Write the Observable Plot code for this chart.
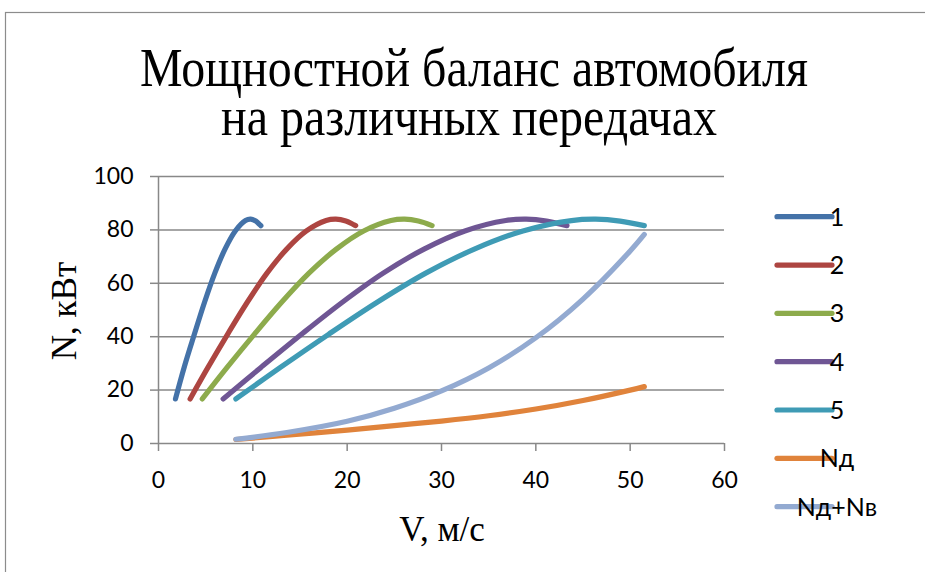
<!DOCTYPE html>
<html><head><meta charset="utf-8">
<script src="https://cdn.jsdelivr.net/npm/d3@7"></script>
<script src="https://cdn.jsdelivr.net/npm/@observablehq/plot@0.6"></script>
<style>html,body{margin:0;padding:0;background:#fff;overflow:hidden}</style>
</head><body><div id="chart"></div>
<script>
// ---- data ----
const seriesNames = ["1", "2", "3", "4", "5", "Nд", "Nд+Nв"];
const seriesColors = ["#4472a8", "#ad4541", "#8dab4c", "#6f5694", "#3f9bb5", "#e0833b", "#93aad1"];

const v1 = [1.8, 2.71, 3.8, 4.88, 5.97, 7.05, 8.14, 9.22, 9.77, 10.31, 10.85];
const n1 = [16.7, 28.4, 40.9, 52.9, 63.8, 72.8, 79.6, 83.5, 84.0, 83.3, 81.6];
const v2 = [3.35, 5.23, 7.32, 9.41, 11.5, 13.59, 15.68, 17.77, 18.81, 19.86, 20.9];
const n2 = [16.7, 28.4, 40.9, 52.9, 63.8, 72.8, 79.6, 83.5, 84.0, 83.3, 81.6];
const v3 = [4.64, 7.25, 10.15, 13.05, 15.95, 18.85, 21.75, 24.65, 26.1, 27.55, 29.0];
const n3 = [16.7, 28.4, 40.9, 52.9, 63.8, 72.8, 79.6, 83.5, 84.0, 83.3, 81.6];
const v4 = [6.85, 10.83, 15.16, 19.49, 23.82, 28.15, 32.48, 36.81, 38.97, 41.14, 43.3];
const n4 = [16.7, 28.4, 40.9, 52.9, 63.8, 72.8, 79.6, 83.5, 84.0, 83.3, 81.6];
const v5 = [8.2, 12.88, 18.03, 23.18, 28.33, 33.48, 38.63, 43.78, 46.35, 48.93, 51.5];
const n5 = [16.7, 28.4, 40.9, 52.9, 63.8, 72.8, 79.6, 83.5, 84.0, 83.3, 81.6];
const vD = [8.2, 13.6, 20, 25, 30, 35, 40, 45, 50, 51.5];
const nD = [1.5, 3.1, 5.0, 6.7, 8.4, 10.4, 12.9, 16.1, 20.0, 21.3];
const vDB = [8.2, 13.6, 20, 25, 30, 35, 40, 45, 50, 51.5];
const nDB = [1.6, 4.1, 8.3, 13.2, 19.7, 28.3, 39.6, 54.1, 72.1, 78.3];

const xTicks = [0, 10, 20, 30, 40, 50, 60];
const yTicks = [0, 20, 40, 60, 80, 100];
const titleLines = ["Мощностной баланс автомобиля", "на различных передачах"];
const xLabel = "V, м/с";
const yLabel = "N, кВт";

const seriesV = [v1, v2, v3, v4, v5, vD, vDB];
const seriesN = [n1, n2, n3, n4, n5, nD, nDB];
const rows = [];
seriesV.forEach((vs, i) => vs.forEach((v, j) => rows.push({series: seriesNames[i], v, n: seriesN[i][j]})));

const gridColor = "#888888";
const sans = "Lato, 'Open Sans', sans-serif";
const plot = Plot.plot({
  width: 925, height: 572,
  marginLeft: 158, marginRight: 201, marginTop: 176, marginBottom: 129,
  style: {background: "#fff", fontFamily: sans, fontSize: "23px", overflow: "visible", color: "#000"},
  x: {domain: [0, 60], ticks: xTicks, label: null},
  y: {domain: [0, 100], ticks: yTicks, label: null},
  color: {domain: seriesNames, range: seriesColors},
  marks: [
    Plot.gridY(yTicks.filter(d => d > 0), {stroke: gridColor, strokeOpacity: 1, strokeWidth: 1.5}),
    Plot.ruleY([0], {stroke: gridColor, strokeWidth: 1.5}),
    Plot.ruleX([0], {stroke: gridColor, strokeWidth: 1.5}),
    Plot.axisY(yTicks, {tickSize: 8, tickPadding: 17, stroke: gridColor, strokeWidth: 1.5, fill: "#000", fontSize: 23, label: null}),
    Plot.axisX(xTicks, {tickSize: 8, tickPadding: 20, stroke: gridColor, strokeWidth: 1.5, fill: "#000", fontSize: 23, label: null}),
    Plot.line(rows, {x: "v", y: "n", z: "series", stroke: "series", strokeWidth: 5.2, curve: "catmull-rom", strokeLinecap: "round", strokeLinejoin: "round"})
  ]
});

const svg = d3.select(plot);
svg.insert("rect", ":first-child")
  .attr("x", 5.5).attr("y", 12.5).attr("width", 1200).attr("height", 1200)
  .attr("fill", "none").attr("stroke", "#8c8c8c").attr("stroke-width", 1.2);

const serif = "'Liberation Serif', 'Times New Roman', serif";
const tl = [[474, 86, 668], [469, 135, 496]];
titleLines.forEach((t, i) => {
  svg.append("text").attr("x", tl[i][0]).attr("y", tl[i][1])
    .attr("text-anchor", "middle").attr("font-family", serif).attr("font-size", 55)
    .attr("textLength", tl[i][2]).attr("lengthAdjust", "spacingAndGlyphs")
    .attr("fill", "#000").text(t);
});
svg.append("text").attr("x", 442).attr("y", 541).attr("text-anchor", "middle")
  .attr("font-family", serif).attr("font-size", 35).attr("fill", "#000").text(xLabel);
svg.append("text").attr("transform", "translate(76,311) rotate(-90)").attr("text-anchor", "middle")
  .attr("font-family", serif).attr("font-size", 35).attr("fill", "#000").text(yLabel);

seriesNames.forEach((name, i) => {
  const y = 216.7 + i * 48.33;
  svg.append("line").attr("x1", 777).attr("x2", 832).attr("y1", y).attr("y2", y)
    .attr("stroke", seriesColors[i]).attr("stroke-width", 5.2).attr("stroke-linecap", "round");
  svg.append("text").attr("x", 837).attr("y", y).attr("dy", "0.36em")
    .attr("font-family", sans).attr("font-size", 25).attr("fill", "#000").text(name);
});

document.getElementById("chart").appendChild(plot);
</script>
</body></html>
